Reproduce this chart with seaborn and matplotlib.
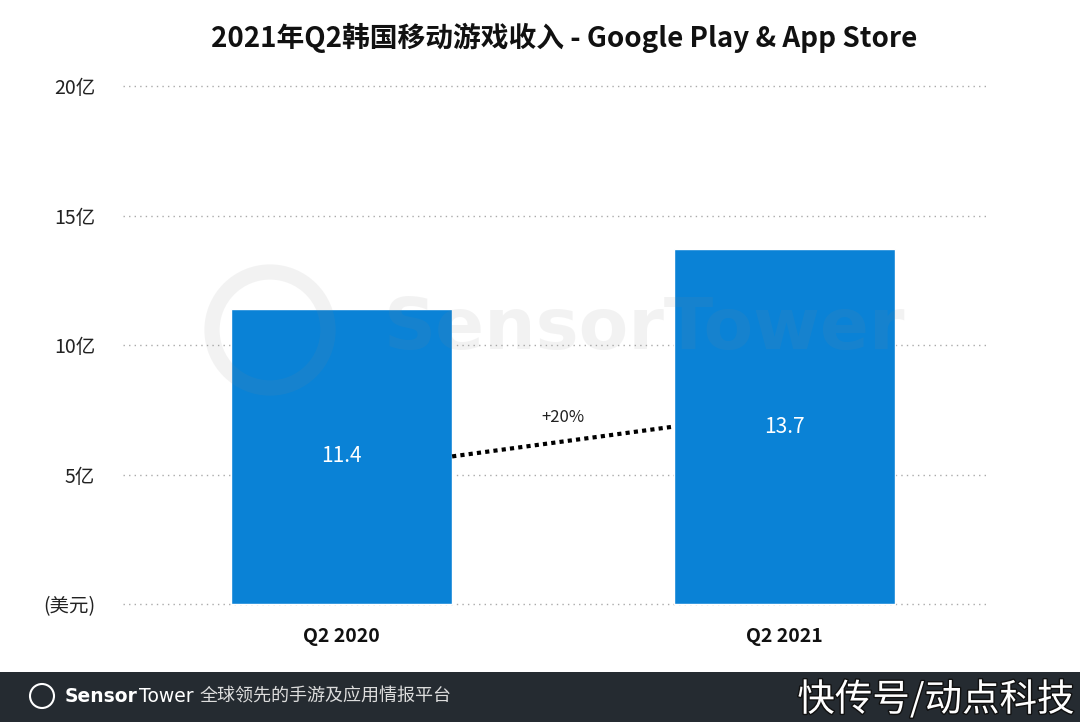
import matplotlib
matplotlib.use('Agg')
import matplotlib.pyplot as plt
import matplotlib.patheffects as pe
from matplotlib.patches import Rectangle, Circle
import seaborn as sns

# Data
quarters = ['Q2 2020', 'Q2 2021']
revenue = [11.4, 13.7]  # 亿美元
ytick_vals = [0, 5, 10, 15, 20]
ytick_labels = ['(美元)', '5亿', '10亿', '15亿', '20亿']
title = '2021年Q2韩国移动游戏收入 - Google Play & App Store'

sns.set_theme(style='white')
plt.rcParams['font.family'] = ['Noto Sans CJK SC', 'DejaVu Sans']

fig = plt.figure(figsize=(10.8, 7.22), dpi=100)
ax = fig.add_axes([0.1139, 0.158, 0.801, 0.7300])

bar_color = '#0a82d6'
sns.barplot(x=quarters, y=revenue, color=bar_color, saturation=1, width=0.5, ax=ax, zorder=3)

ax.set_ylim(-0.15, 20.2)
ax.set_xlim(-0.493, 1.46)
ax.set_yticks(ytick_vals)
ax.set_yticklabels(ytick_labels, fontsize=14, color='#222222')
ax.tick_params(axis='y', length=0, pad=20)
ax.tick_params(axis='x', length=0, pad=14)
for lab in ax.get_xticklabels():
    lab.set_fontweight('bold')
    lab.set_fontsize(14)
    lab.set_color('#111111')
ax.set_xlabel('')
ax.set_ylabel('')
for s in ax.spines.values():
    s.set_visible(False)
for v in ytick_vals:
    ax.axhline(v, color='#aaaaaa', linestyle=(0, (1, 3)), linewidth=1, zorder=1)

# value labels in the middle of bars
for i, v in enumerate(revenue):
    ax.text(i, v / 2, f'{v:.1f}', ha='center', va='center', color='white', fontsize=15, zorder=5)

# growth connector between bar midpoints
x0, x1 = 0.25, 0.75
y0, y1 = revenue[0] / 2, revenue[1] / 2
ax.plot([x0, x1], [y0, y1], color='black', linestyle=(0, (1, 1)), linewidth=3, zorder=4)
growth = (revenue[1] / revenue[0] - 1) * 100
ax.text((x0 + x1) / 2, (y0 + y1) / 2 + 0.6, f'+{growth:.0f}%', ha='center', va='bottom',
        fontsize=12, color='#222222')

# watermark
fig.text(0.597, 0.543, 'SensorTower', ha='center', va='center', fontsize=52, fontweight='bold',
         color='#888888', alpha=0.10, family='DejaVu Sans', zorder=10)
fig.patches.append(Circle((270, 392), 58, transform=None, fill=False,
                          edgecolor='#888888', alpha=0.10, linewidth=11, zorder=10))

fig.suptitle(title, x=0.522, y=0.968, fontsize=20, fontweight='bold', color='#111111')

# footer band
fig.patches.append(Rectangle((0, 0), 1, 0.069, transform=fig.transFigure,
                             facecolor='#252b31', edgecolor='none', zorder=0))
fig.patches.append(Circle((42, 26), 12, transform=None, fill=False, edgecolor='white',
                          linewidth=1.5, zorder=2))
fig.text(0.060, 0.036, 'Sensor', ha='left', va='center', fontsize=13.5, fontweight='bold',
         color='white', family='DejaVu Sans')
fig.text(0.1285, 0.036, 'Tower', ha='left', va='center', fontsize=13.5, color='white',
         family='DejaVu Sans')
fig.text(0.185, 0.036, '全球领先的手游及应用情报平台', ha='left', va='center', fontsize=13,
         color='#dddddd')
fig.text(0.995, 0.030, '快传号/动点科技', ha='right', va='center', fontsize=27, color='white',
         path_effects=[pe.withStroke(linewidth=2, foreground='#111111')])

fig.savefig('out.png', dpi=100, facecolor='white')
